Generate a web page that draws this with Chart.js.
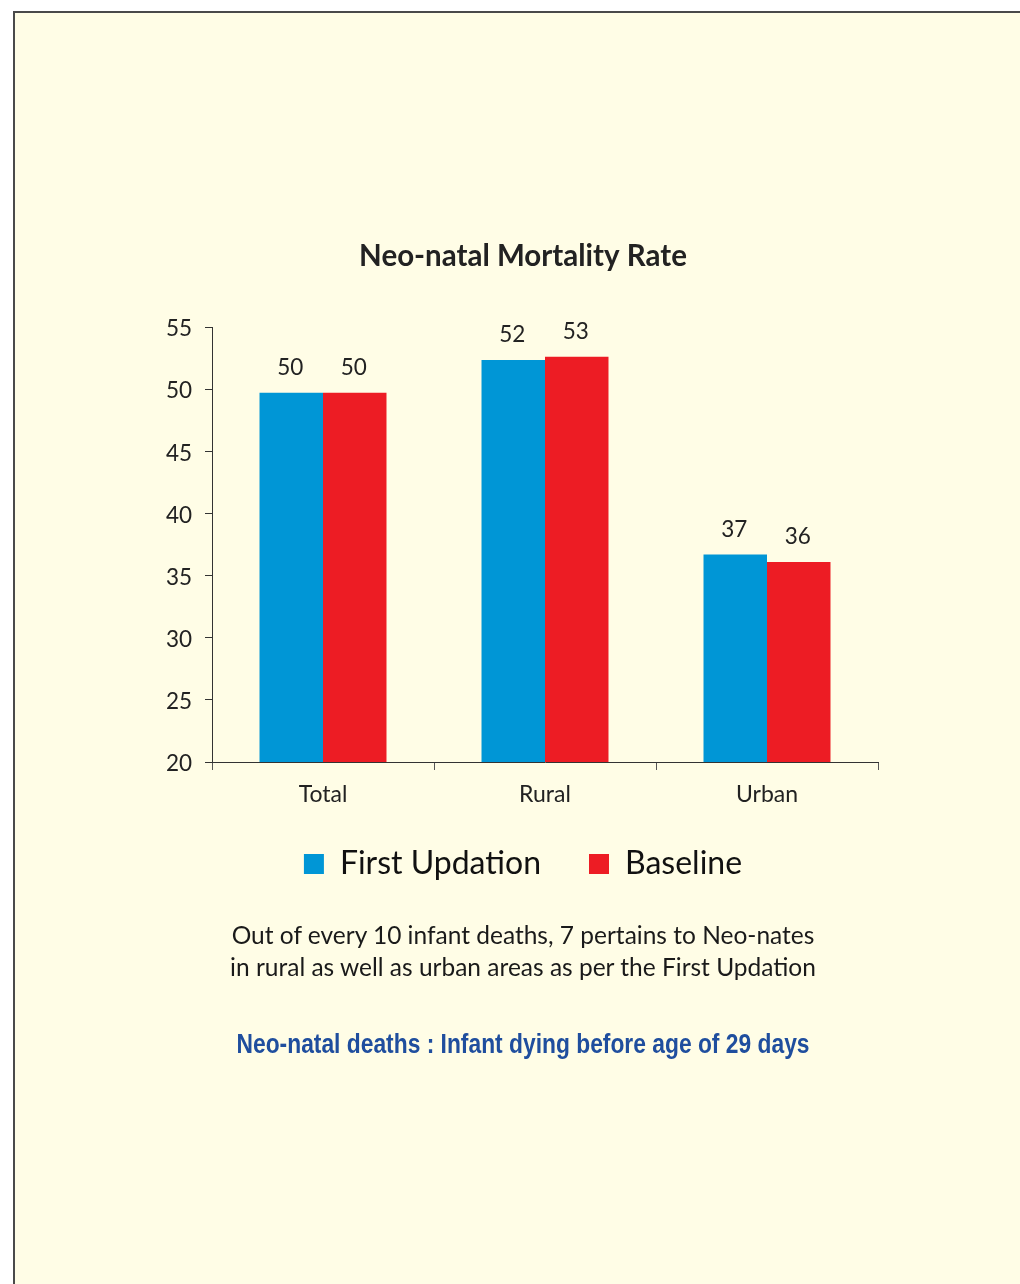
<!DOCTYPE html>
<html>
<head>
<meta charset="utf-8">
<script src="https://cdn.jsdelivr.net/npm/chart.js@4.4.1/dist/chart.umd.min.js"></script>
<style>
  html, body { margin:0; padding:0; background:#ffffff; width:1020px; height:1284px; overflow:hidden; }
  #panel { position:absolute; left:13px; top:11px; width:1040px; height:1300px; background:#FFFDE6; border:2px solid #4a4a4a; box-sizing:border-box; }
  #wrap { position:absolute; left:0; top:0; width:1020px; height:1284px; }
  .txt { position:absolute; left:0; width:1046px; text-align:center; font-family:Lato, "Open Sans", sans-serif; color:#1a1a1a; }
  #note1 { top:919px; font-size:24.5px; line-height:32px; }
  #note2 { top:1029px; font-family:"Liberation Sans Narrow", "Arial Narrow", sans-serif; font-weight:bold; font-size:27px; color:#1F4E9E; transform:scaleX(0.845); transform-origin:523px 50%; }
</style>
</head>
<body>
<div id="panel"></div>
<div id="wrap"><canvas id="c" width="1020" height="1284"></canvas></div>
<div class="txt" id="note1">Out of every 10 infant deaths, 7 pertains to Neo-nates<br>in rural as well as urban areas as per the First Updation</div>
<div class="txt" id="note2">Neo-natal deaths : Infant dying before age of 29 days</div>
<script>
const categories = ["Total", "Rural", "Urban"];
const firstUpdation = [49.7, 52.35, 36.7];
const baseline = [49.7, 52.6, 36.1];
const seriesNames = ["First Updation", "Baseline"];
const yTicks = [20, 25, 30, 35, 40, 45, 50, 55];
const chartTitle = "Neo-natal Mortality Rate";

const FONT = 'Lato, "Open Sans", sans-serif';

const valueLabels = {
  id: 'valueLabels',
  afterDatasetsDraw(chart) {
    const ctx = chart.ctx;
    ctx.save();
    ctx.font = '22.5px ' + FONT;
    ctx.fillStyle = '#222222';
    ctx.textAlign = 'center';
    ctx.textBaseline = 'middle';
    chart.data.datasets.forEach((ds, i) => {
      chart.getDatasetMeta(i).data.forEach((bar, j) => {
        ctx.fillText(String(Math.round(ds.data[j])), bar.x - 1, bar.y - 25);
      });
    });
    ctx.restore();
  }
};

// widen the label clip areas so tick labels are not cut off
const labelRoom = {
  id: 'labelRoom',
  afterLayout(chart) {
    chart.scales.x.bottom += 30;
    chart.scales.y.left -= 30;
  }
};

new Chart(document.getElementById('c'), {
  type: 'bar',
  data: {
    labels: categories,
    datasets: [
      { label: seriesNames[0], data: firstUpdation, backgroundColor: '#0096D6', borderWidth: 0 },
      { label: seriesNames[1], data: baseline, backgroundColor: '#ED1C24', borderWidth: 0 }
    ]
  },
  options: {
    responsive: false,
    animation: false,
    devicePixelRatio: 1,
    categoryPercentage: 0.572,
    barPercentage: 1.0,
    layout: { padding: { left: 168, right: 142, top: 239, bottom: 394 } },
    plugins: {
      title: {
        display: true,
        text: chartTitle,
        color: '#222222',
        font: { family: FONT, size: 29.5, weight: 'bold', lineHeight: 1.2 },
        padding: { top: 0, bottom: 52.6 }
      },
      legend: {
        display: true,
        position: 'bottom',
        labels: {
          color: '#111111',
          font: { family: FONT, size: 32 },
          boxWidth: 20,
          boxHeight: 20,
          padding: 48
        }
      },
      tooltip: { enabled: false }
    },
    scales: {
      x: {
        afterFit(scale) { scale.height = 38; },
        grid: { display: true, drawOnChartArea: false, drawTicks: true, tickLength: 8, color: '#555555', offset: true },
        border: { display: true, color: '#333333', width: 1 },
        ticks: { color: '#222222', font: { family: FONT, size: 23 }, padding: 11 }
      },
      y: {
        min: 20, max: 55,
        afterFit(scale) { scale.width = 44; },
        afterBuildTicks(scale) { scale.ticks = yTicks.map(v => ({ value: v })); },
        grid: { display: true, drawOnChartArea: false, drawTicks: true, tickLength: 7, color: '#333333' },
        border: { display: true, color: '#333333', width: 1 },
        ticks: { color: '#222222', font: { family: FONT, size: 22.5 }, padding: 13, labelOffset: 2 }
      }
    }
  },
  plugins: [valueLabels, labelRoom]
});
</script>
</body>
</html>
